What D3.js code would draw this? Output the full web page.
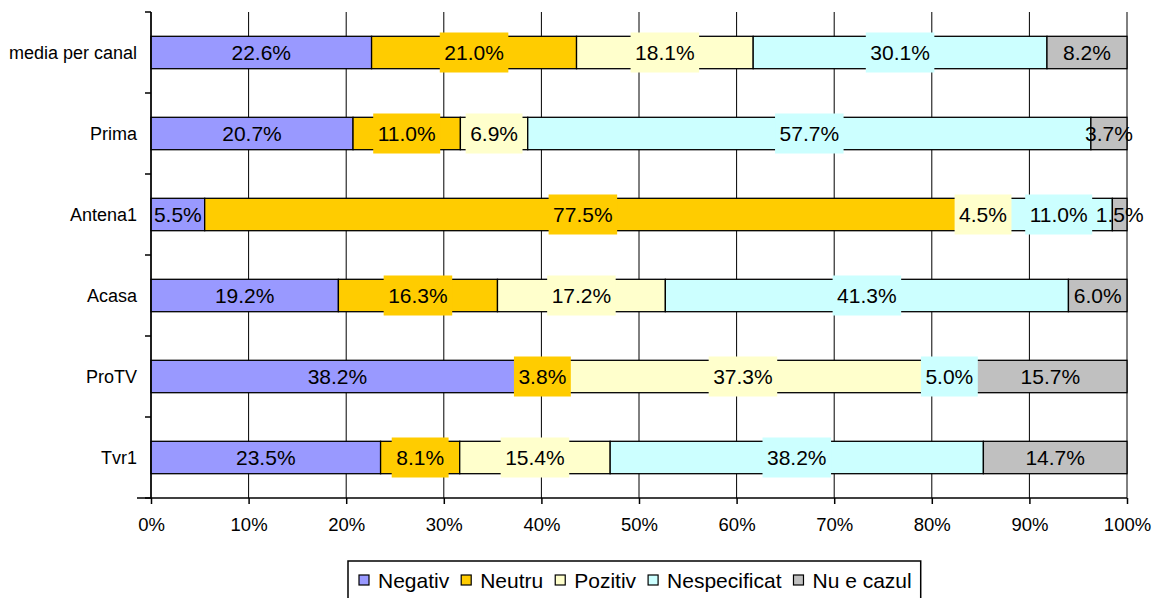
<!DOCTYPE html>
<html>
<head>
<meta charset="utf-8">
<script src="https://cdn.jsdelivr.net/npm/d3@7"></script>
<style>
  html, body { margin: 0; padding: 0; background: #fff; }
  svg text { font-family: "Liberation Sans", Arial, sans-serif; fill: #000; }
</style>
</head>
<body>
<svg id="chart" width="1154" height="598"></svg>
<script>
// categories, top to bottom
const channels = ["media per canal", "Prima", "Antena1", "Acasa", "ProTV", "Tvr1"];
const seriesNames = ["Negativ", "Neutru", "Pozitiv", "Nespecificat", "Nu e cazul"];
const seriesColors = ["#9999FF", "#FFCC00", "#FFFFCC", "#CCFFFF", "#C0C0C0"];

// values in % per channel, same order as seriesNames
const negativ      = [22.6, 20.7,  5.5, 19.2, 38.2, 23.5];
const neutru       = [21.0, 11.0, 77.5, 16.3,  3.8,  8.1];
const pozitiv      = [18.1,  6.9,  4.5, 17.2, 37.3, 15.4];
const nespecificat = [30.1, 57.7, 11.0, 41.3,  5.0, 38.2];
const nuECazul     = [ 8.2,  3.7,  1.5,  6.0, 15.7, 14.7];

const xTicks = [0, 10, 20, 30, 40, 50, 60, 70, 80, 90, 100];

// only these series get a filled box behind their labels
const boxedSeries = ["Neutru", "Pozitiv", "Nespecificat"];

const values = [negativ, neutru, pozitiv, nespecificat, nuECazul];
const rows = channels.map((name, i) => {
  const row = { name };
  seriesNames.forEach((s, j) => (row[s] = values[j][i]));
  return row;
});

const margin = { top: 12, right: 27, bottom: 100, left: 151 };
const width = 1154, height = 598;
const svg = d3.select("#chart");

const x = d3.scaleLinear().domain([0, 100]).range([margin.left, width - margin.right]);
const y = d3.scaleBand().domain(channels).range([margin.top, height - margin.bottom]).paddingInner(0).paddingOuter(0);
const barH = y.bandwidth() * 0.4;

// stack normalised to 100
const stack = d3.stack().keys(seriesNames).offset(d3.stackOffsetExpand)(rows);

// vertical gridlines
svg.append("g")
  .selectAll("line")
  .data(xTicks)
  .join("line")
  .attr("x1", (d) => x(d)).attr("x2", (d) => x(d))
  .attr("y1", margin.top).attr("y2", height - margin.bottom)
  .attr("stroke", "#000").attr("stroke-width", 1);

// bars
const groups = svg.append("g")
  .selectAll("g")
  .data(stack)
  .join("g")
  .attr("fill", (d, i) => seriesColors[i]);

groups.selectAll("rect")
  .data((d) => d)
  .join("rect")
  .attr("x", (d) => x(d[0] * 100))
  .attr("width", (d) => x(d[1] * 100) - x(d[0] * 100))
  .attr("y", (d) => y(d.data.name) + (y.bandwidth() - barH) / 2)
  .attr("height", barH)
  .attr("stroke", "#000").attr("stroke-width", 1.3);

// y axis
const yAxis = svg.append("g");
yAxis.append("line")
  .attr("x1", margin.left).attr("x2", margin.left)
  .attr("y1", margin.top).attr("y2", height - margin.bottom)
  .attr("stroke", "#000").attr("stroke-width", 1.5);
yAxis.selectAll(".tick")
  .data(channels.concat([null]))
  .join("line")
  .attr("x1", margin.left - 6).attr("x2", margin.left)
  .attr("y1", (d, i) => margin.top + i * y.bandwidth())
  .attr("y2", (d, i) => margin.top + i * y.bandwidth())
  .attr("stroke", "#000").attr("stroke-width", 1.5);
yAxis.selectAll("text")
  .data(channels)
  .join("text")
  .attr("x", margin.left - 14)
  .attr("y", (d) => y(d) + y.bandwidth() / 2)
  .attr("dy", "0.35em")
  .attr("text-anchor", "end")
  .attr("font-size", 18)
  .text((d) => d);

// x axis
const xAxis = svg.append("g")
  .attr("transform", `translate(0, ${height - margin.bottom})`)
  .call(d3.axisBottom(x).tickValues(xTicks).tickFormat((d) => d + "%").tickSize(6).tickSizeOuter(0));
xAxis.select(".domain").attr("stroke", "#000").attr("stroke-width", 1.5)
  .attr("d", `M${margin.left - 14},0H${width - margin.right}`);
xAxis.selectAll(".tick line").attr("stroke", "#000").attr("stroke-width", 1.5);
xAxis.selectAll(".tick text")
  .attr("font-size", 18.5)
  .attr("font-family", "Liberation Sans, Arial, sans-serif")
  .attr("y", 20).attr("dy", "0.71em");

// data labels, some with coloured boxes
const labels = svg.append("g");
stack.forEach((layer, si) => {
  layer.forEach((d) => {
    const cx = (x(d[0] * 100) + x(d[1] * 100)) / 2;
    const cy = y(d.data.name) + y.bandwidth() / 2;
    const g = labels.append("g");
    const t = g.append("text")
      .attr("x", cx).attr("y", cy)
      .attr("dy", "0.36em")
      .attr("text-anchor", "middle")
      .attr("font-size", 21)
      .text(d.data[layer.key].toFixed(1) + "%");
    if (boxedSeries.includes(layer.key)) {
      const w = t.node().getComputedTextLength() + 9;
      g.insert("rect", "text")
        .attr("x", cx - w / 2).attr("width", w)
        .attr("y", cy - 20).attr("height", 40)
        .attr("fill", seriesColors[si]);
    }
  });
});

// legend
const legend = svg.append("g");
const legendBox = legend.append("rect")
  .attr("x", 348).attr("y", 561)
  .attr("height", 50)
  .attr("fill", "#fff").attr("stroke", "#000").attr("stroke-width", 1.5);
let lx = 359;
seriesNames.forEach((s, i) => {
  legend.append("rect")
    .attr("x", lx).attr("y", 575)
    .attr("width", 10).attr("height", 10)
    .attr("fill", seriesColors[i]).attr("stroke", "#000").attr("stroke-width", 1.2);
  const t = legend.append("text")
    .attr("x", lx + 19).attr("y", 580)
    .attr("dy", "0.36em")
    .attr("font-size", 21)
    .text(s);
  lx += 19 + t.node().getComputedTextLength() + 12;
});
legendBox.attr("width", lx - 348 - 3);
</script>
</body>
</html>
